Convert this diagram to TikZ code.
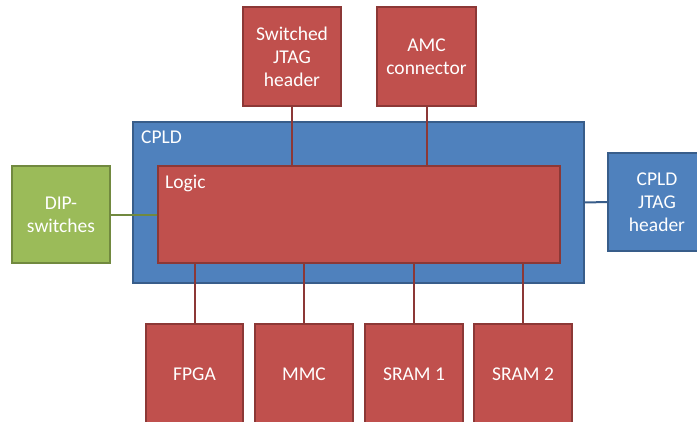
\documentclass[tikz,border=0pt]{standalone}
\usepackage{fontspec}
\setmainfont{Carlito}
\definecolor{redfill}{HTML}{C0504D}
\definecolor{redline}{HTML}{8C3836}
\definecolor{bluefill}{HTML}{4F81BD}
\definecolor{blueline}{HTML}{385D8A}
\definecolor{greenfill}{HTML}{9BBB59}
\definecolor{greenline}{HTML}{71893F}
\tikzset{
  blk/.style={draw, line width=1.5pt, text=white, align=center, inner sep=0pt,
    font=\fontsize{19.5}{23}\selectfont},
  redblk/.style={blk, fill=redfill, draw=redline},
  blueblk/.style={blk, fill=bluefill, draw=blueline},
  greenblk/.style={blk, fill=greenfill, draw=greenline},
  link/.style={line width=2pt},
  lbl/.style={text=white, anchor=base west, inner sep=0pt, font=\fontsize{19.5}{23}\selectfont}
}
\begin{document}
\begin{tikzpicture}[x=1pt,y=-1pt]
\useasboundingbox (0,0) rectangle (697,421);
% CPLD container and logic block
\node[blueblk, minimum width=451pt, minimum height=161pt] (cpld) at (358.5,202.5) {};
\node[lbl] (cpldlbl) at (141,143) {CPLD};
\node[redblk, minimum width=402pt, minimum height=97pt] (logic) at (359,214.5) {};
\node[lbl] (logiclbl) at (165,188) {Logic};
% top headers
\node[redblk, minimum width=98pt, minimum height=99pt] (swj) at (292,56.5) {Switched\\JTAG\\header};
\node[redblk, minimum width=99pt, minimum height=99pt] (amc) at (426.5,56.5) {AMC\\connector};
% side blocks
\node[greenblk, minimum width=98pt, minimum height=97pt] (dip) at (61,214.5) {DIP-\\switches};
\node[blueblk, minimum width=98pt, minimum height=98pt] (cjtag) at (657,202) {CPLD\\JTAG\\header};
% bottom devices
\node[redblk, minimum width=97pt, minimum height=100pt] (fpga) at (194.5,374) {FPGA};
\node[redblk, minimum width=98pt, minimum height=100pt] (mmc) at (304,374) {MMC};
\node[redblk, minimum width=98pt, minimum height=100pt] (sram1) at (414,374) {SRAM 1};
\node[redblk, minimum width=98pt, minimum height=100pt] (sram2) at (523,374) {SRAM 2};
% connections
\draw[link, redline] (swj.south) -- (swj.south |- logic.north);
\draw[link, redline] (amc.south) -- (amc.south |- logic.north);
\draw[link, greenline] (dip.east) -- (logic.west);
\draw[link, blueline] (cpld.east) -- (cjtag.west);
\foreach \d in {fpga,mmc,sram1,sram2}
  \draw[link, redline] (\d.north) -- (\d.north |- logic.south);
\end{tikzpicture}
\end{document}
